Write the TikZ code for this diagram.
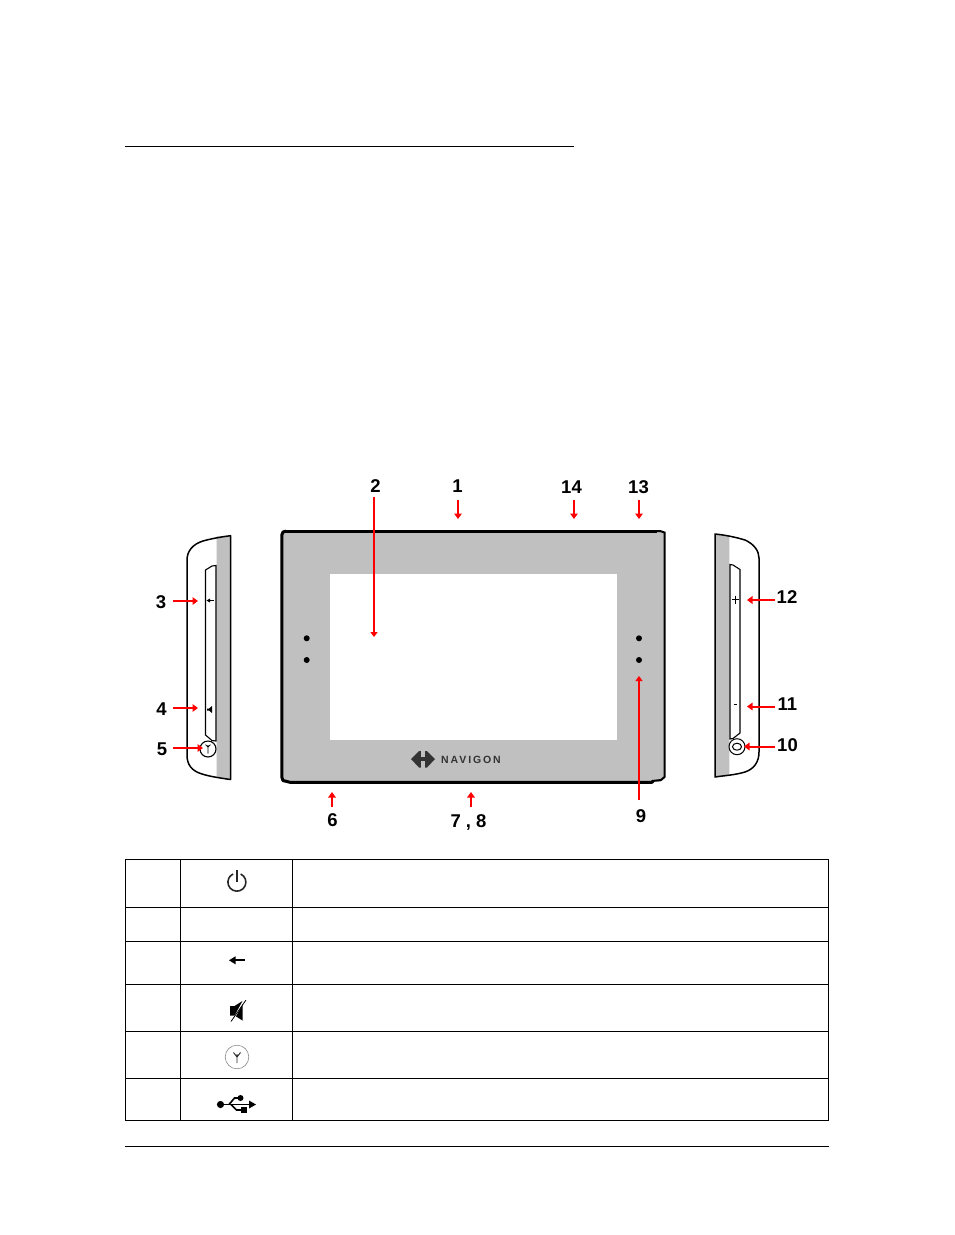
\documentclass[tikz,border=0pt]{standalone}
\usepackage{fontspec}
\setmainfont{Liberation Sans}
\newfontfamily\navfont[LetterSpace=18]{Liberation Sans Bold}
\definecolor{devgray}{HTML}{C0C0C0}
\definecolor{arrowred}{HTML}{FF0000}
\definecolor{logodark}{HTML}{333333}
\usetikzlibrary{arrows.meta}
\tikzset{
  x=1pt,y=-1pt,
  callout/.style={draw=arrowred,line width=2pt,-{Triangle[length=5.5pt,width=7.5pt,fill=arrowred]}},
  longcallout/.style={draw=arrowred,line width=1.5pt,-{Triangle[length=5pt,width=7pt,fill=arrowred]}},
  num/.style={inner sep=0pt,font=\fontsize{18.5}{20}\selectfont\bfseries},
  rule/.style={line width=1pt,draw=black},
  tableline/.style={line width=1pt,draw=black},
  edge/.style={line width=1.5pt,draw=black},
  dot/.style={fill=black,draw=none},
}
\begin{document}
\begin{tikzpicture}
\useasboundingbox (0,0) rectangle (954,1235);
\fill[white] (0,0) rectangle (954,1235);
% rules
\draw[rule] (125,146.5) -- (574,146.5);
\draw[rule] (125,1146.5) -- (828.5,1146.5);
% main device
\fill[devgray] (282,531) -- (663,531) -- (664.5,533) -- (664.5,778) -- (660,782) -- (282,782) -- cycle;
\draw[line width=3pt,line join=round] (286,531) -- (283,532) -- (281.8,535) -- (281.8,777) -- (283,780.5) -- (290,782.3) -- (652,782.3) -- (653,781);
\draw[line width=3pt] (285,531) -- (657,531);
\draw[line width=2pt] (657,531) -- (660,531) -- (664.5,532.5) -- (664.5,777) -- (661,780) -- (652,781);
\fill[white] (329.5,574) rectangle (616.7,740);
\foreach \px in {306.7,639}{
  \fill[dot] (\px,638.3) circle[radius=3pt];
  \fill[dot] (\px,660) circle[radius=3pt];
}
% logo
\fill[logodark] (411,759) -- (419,751) -- (427,751) -- (435,759) -- (427,767.5) -- (419,767.5) -- cycle;
\fill[devgray] (421,751) rectangle (425,756.5);
\fill[devgray] (421,761) rectangle (425,768);
\node[anchor=west,inner sep=0pt,text=logodark,font=\navfont\fontsize{10.5}{12}\selectfont] (logo) at (441,759.5) {NAVIGON};
% left side view
\fill[devgray] (216.7,536.5) -- (230.5,535.7) -- (230.5,779.5) -- (216.7,777.5) -- cycle;
\draw[edge,line join=round] (230.5,535.7) .. controls (220,537) and (210,539) .. (203,541)
  .. controls (193,544) and (187,551) .. (187,560) -- (187,755)
  .. controls (187,765) and (192,771) .. (202,774) .. controls (210,776.5) and (220,778) .. (230.5,779.5) -- cycle;
\draw[line width=1.1pt] (216,565.5) -- (212,566) -- (205.5,570) -- (205.5,735) -- (212,740.5) -- (216,741) -- cycle;
\draw[line width=1.1pt,fill=white] (208,749) circle[radius=8pt];
\draw[line width=.7pt] (208,753.5) -- (208,745) (205.5,744.5) -- (208,747) -- (210.5,744.5);
\draw[line width=.7pt] (209.5,600.5) -- (213.5,600.5);
\fill (206.5,600.5) -- (210,598.5) -- (210,602.5) -- cycle;
\fill (207,708.5) -- (209,708.5) -- (212,706) -- (212,713) -- (209,710.5) -- (207,710.5) -- cycle;
% right side view
\fill[devgray] (715,534) -- (729.3,535.5) -- (729.3,774.5) -- (715,777) -- cycle;
\draw[edge,line join=round] (715,534) .. controls (725,535) and (735,537) .. (745,540)
  .. controls (754,544) and (759,551) .. (759,558) -- (759,752)
  .. controls (759,762) and (754,769) .. (745,772) .. controls (735,775) and (725,775.5) .. (715,777) -- cycle;
\draw[line width=1.1pt] (730,564.5) -- (733,565) -- (740,569.5) -- (740,733) -- (733,738.5) -- (730,739) -- cycle;
\draw[line width=1pt,fill=white] (737,746.7) circle[radius=8pt];
\draw[line width=1pt] (737,746.7) ellipse[x radius=4.5pt,y radius=3.5pt];
\draw[line width=1.4pt] (731.5,599.5) -- (739,599.5) (735.3,595.5) -- (735.3,603.5);
\draw[line width=.7pt] (733.5,704.5) -- (737,704.5);
% labels
\node[num] (n1) at (457.5,486.5) {1};
\node[num] (n2) at (375.5,486) {2};
\node[num] (n3) at (161,602) {3};
\node[num] (n4) at (161.5,709) {4};
\node[num] (n5) at (162,749) {5};
\node[num] (n6) at (332.5,820) {6};
\node[num] (n78) at (468.5,822) {7 , 8};
\node[num] (n9) at (641,816) {9};
\node[num] (n10) at (787.5,745) {10};
\node[num] (n11) at (787.5,704) {11};
\node[num] (n12) at (787,597) {12};
\node[num] (n13) at (638.5,487.5) {13};
\node[num] (n14) at (571.5,487.5) {14};
% callouts
\coordinate (t1) at (458,519); \coordinate (s1) at (458,500);
\coordinate (t14) at (574,519); \coordinate (s14) at (574,500);
\coordinate (t13) at (639,519); \coordinate (s13) at (639,500);
\coordinate (t2) at (374,637); \coordinate (s2) at (374,497);
\coordinate (t3) at (198,601); \coordinate (s3) at (173,601);
\coordinate (t4) at (198,708); \coordinate (s4) at (173,708);
\coordinate (t5) at (203,748); \coordinate (s5) at (173,748);
\coordinate (t6) at (332,792); \coordinate (s6) at (332,807);
\coordinate (t78) at (471,792); \coordinate (s78) at (471,807);
\coordinate (t9) at (639,676); \coordinate (s9) at (639,800);
\coordinate (t10) at (744,746.5); \coordinate (s10) at (775,746.5);
\coordinate (t11) at (747,706.5); \coordinate (s11) at (775,706.5);
\coordinate (t12) at (747,600); \coordinate (s12) at (775,600);
\foreach \k in {1,14,13,3,4,5,6,78,10,11,12}{
  \draw[callout] (s\k) -- (t\k);
}
\foreach \k in {2,9}{
  \draw[longcallout] (s\k) -- (t\k);
}
% table
\draw[tableline] (125.5,859.5) rectangle (828.5,1120.5);
\foreach \ly in {907.5,941.5,984.5,1031.5,1078.5}{
  \draw[tableline] (125.5,\ly) -- (828.5,\ly);
}
\foreach \lx in {180.5,292.5}{
  \draw[tableline] (\lx,859.5) -- (\lx,1120.5);
}
% icon: power
\draw[line width=1.6pt,draw=black!85] (240.7,874) arc[start angle=65,end angle=-245,radius=9pt];
\draw[line width=1.6pt,draw=black!85] (236.7,870) -- (236.7,881.5);
% icon: back arrow
\draw[line width=2.2pt] (234,960.3) -- (245,960.3);
\fill (229,960.3) -- (235.5,956.3) -- (235.5,964.3) -- cycle;
% icon: mute
\fill (230,1006) -- (234.5,1006) -- (242.5,1001) -- (242.5,1020.5) -- (234.5,1015.5) -- (230,1015.5) -- cycle;
\draw[white,line width=1.4pt] (232.5,1021) -- (244,1000);
\draw[black,line width=.8pt] (231,1021.5) -- (246,1000);
% icon: antenna
\draw[black!45,line width=.6pt] (237,1057) circle[radius=11.8pt];
\draw[line width=.9pt,black!85] (237,1063) -- (237,1054) (233.5,1052.5) -- (237,1057) -- (240.5,1052.5);
% icon: usb
\fill (220.5,1104.5) circle[radius=3.6pt];
\draw[line width=1.8pt] (220.5,1104.5) -- (250,1104.5);
\fill (256,1104.5) -- (249,1100.5) -- (249,1108.5) -- cycle;
\draw[line width=1.6pt] (229,1104.5) -- (234.5,1098) -- (240,1098);
\fill (240.5,1098) circle[radius=3pt];
\draw[line width=1.6pt] (231,1104.5) -- (236.5,1110) -- (241,1110);
\fill (240.5,1106.8) rectangle (246.5,1113);
\end{tikzpicture}
\end{document}
